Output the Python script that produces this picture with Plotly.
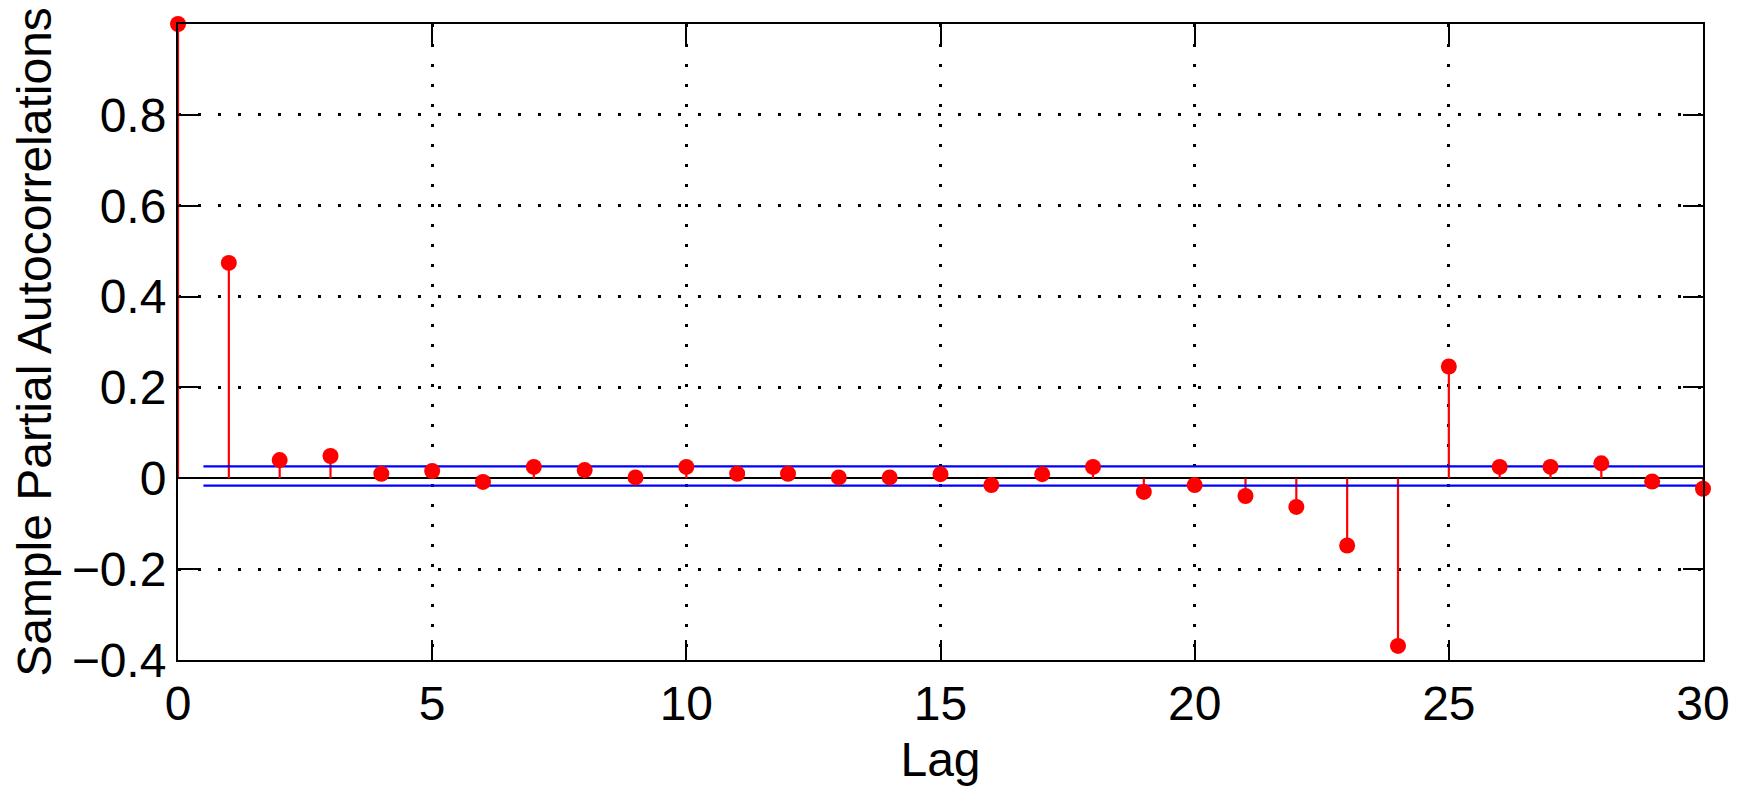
import plotly.graph_objects as go

lags = list(range(0, 31))
pacf = [1.0, 0.474, 0.040, 0.049, 0.010, 0.016, -0.008, 0.025, 0.018, 0.002,
        0.025, 0.010, 0.010, 0.002, 0.002, 0.009, -0.015, 0.009, 0.025, -0.030,
        -0.015, -0.039, -0.063, -0.148, -0.369, 0.246, 0.025, 0.025, 0.033, -0.007,
        -0.023]
upper_bound = 0.026
lower_bound = -0.016
bound_x = [0.5, 30]
x_ticks = [0, 5, 10, 15, 20, 25, 30]
y_ticks = [-0.4, -0.2, 0, 0.2, 0.4, 0.6, 0.8]

FONT = "Liberation Sans, Arial, sans-serif"

# stems
sx, sy = [], []
for l, v in zip(lags, pacf):
    sx += [l, l, None]
    sy += [0, v, None]

fig = go.Figure()
fig.add_trace(go.Scatter(x=sx, y=sy, mode="lines", cliponaxis=False,
                         line=dict(color="#ff0000", width=2.2), hoverinfo="skip"))
fig.add_trace(go.Scatter(x=bound_x, y=[upper_bound, upper_bound], mode="lines",
                         line=dict(color="#0000ff", width=2.2)))
fig.add_trace(go.Scatter(x=bound_x, y=[lower_bound, lower_bound], mode="lines",
                         line=dict(color="#0000ff", width=2.2)))
fig.add_trace(go.Scatter(x=lags, y=pacf, mode="markers", cliponaxis=False,
                         marker=dict(color="#ff0000", size=16, line=dict(width=0))))

fig.update_layout(
    width=1740, height=778,
    margin=dict(l=170, r=45, t=16, b=126),
    paper_bgcolor="white", plot_bgcolor="white",
    showlegend=False,
    font=dict(family=FONT, size=48, color="black"),
)
fig.update_xaxes(
    range=[0, 30], tickvals=x_ticks, ticktext=[str(t) for t in x_ticks],
    showline=True, linecolor="black", linewidth=2, mirror="ticks",
    ticks="inside", ticklen=20, tickwidth=2, tickcolor="black",
    showgrid=True, gridcolor="black", gridwidth=2.5, griddash="3px,17px",
    zeroline=False, automargin=False,
    title=dict(text="Lag", font=dict(size=48), standoff=16),
    tickfont=dict(size=48),
)
fig.update_yaxes(
    range=[-0.4, 1.0], tickvals=y_ticks,
    ticktext=["\u22120.4", "\u22120.2", "0", "0.2", "0.4", "0.6", "0.8"],
    showline=True, linecolor="black", linewidth=2, mirror="ticks",
    ticks="inside", ticklen=20, tickwidth=2, tickcolor="black",
    showgrid=True, gridcolor="black", gridwidth=2.5, griddash="3px,17px",
    zeroline=True, zerolinecolor="black", zerolinewidth=2,
    automargin=False,
    title=dict(text="Sample Partial Autocorrelations", font=dict(size=48), standoff=20),
    tickfont=dict(size=48),
)
fig.write_html("out.html")
